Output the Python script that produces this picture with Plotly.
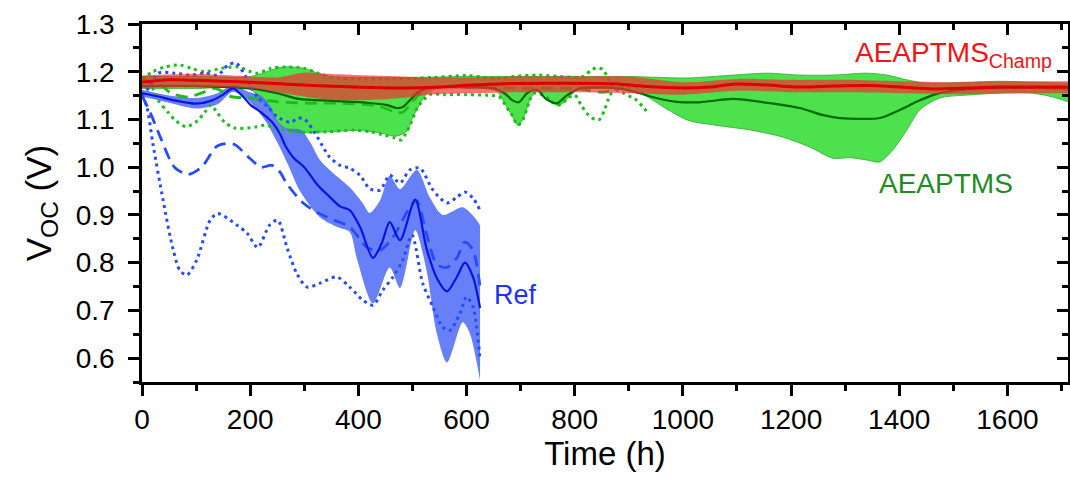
import plotly.graph_objects as go

# ---------------- Ref (blue) ----------------
ref_mean_t = [0, 30, 60, 100, 130, 150, 168, 185, 201, 220, 240, 255, 265, 280, 300, 325, 345, 366,
              384, 403, 427, 443, 458, 477, 505, 526, 545, 564, 582, 597, 612, 625]
ref_mean_v = [1.155, 1.148, 1.14, 1.133, 1.14, 1.152, 1.165, 1.15, 1.13, 1.115, 1.095, 1.07, 1.045,
              1.02, 1.0, 0.962, 0.94, 0.918, 0.91, 0.875, 0.81, 0.84, 0.885, 0.847, 0.932, 0.83,
              0.768, 0.74, 0.77, 0.80, 0.77, 0.705]

ref_up_t = [0, 50, 100, 140, 168, 196, 220, 238, 251, 265, 294, 312, 329, 353, 384, 408, 421, 440,
            458, 477, 508, 532, 556, 593, 619, 625]
ref_up_v = [1.162, 1.15, 1.145, 1.155, 1.172, 1.158, 1.15, 1.126, 1.095, 1.082, 1.078, 1.05, 1.015,
            0.988, 0.958, 0.925, 0.904, 0.93, 0.982, 0.954, 0.994, 0.937, 0.9, 0.916, 0.889, 0.878]

ref_lo_t = [0, 50, 100, 140, 168, 196, 227, 251, 270, 292, 329, 360, 384, 397, 427, 458, 477, 505,
            526, 545, 564, 593, 606, 625]
ref_lo_v = [1.148, 1.135, 1.123, 1.132, 1.158, 1.14, 1.099, 1.05, 1.005, 0.95, 0.895, 0.875, 0.864,
            0.81, 0.715, 0.79, 0.747, 0.868, 0.784, 0.652, 0.591, 0.675, 0.652, 0.553]

ref_dash_t = [0, 15, 35, 60, 85, 110, 140, 170, 196, 220, 240, 255, 268, 298, 323, 353, 384, 416,
              440, 464, 495, 508, 526, 545, 564, 582, 597, 612, 625]
ref_dash_v = [1.15, 1.115, 1.06, 1.0, 0.985, 1.0, 1.045, 1.048, 1.022, 1.0, 1.004, 0.99, 0.965,
              0.925, 0.906, 0.89, 0.875, 0.832, 0.826, 0.853, 0.916, 0.93, 0.86, 0.797, 0.79,
              0.81, 0.843, 0.826, 0.749]

ref_dot1_t = [0, 15, 30, 61, 91, 116, 140, 159, 174, 190, 201, 215, 233, 251, 275, 288, 301, 320,
              338, 347, 366, 384, 403, 421, 440, 458, 477, 495, 514, 538, 564, 582, 597, 612, 625]
ref_dot1_v = [1.15, 1.17, 1.197, 1.197, 1.193, 1.197, 1.193, 1.214, 1.218, 1.193, 1.168, 1.145,
              1.126, 1.105, 1.094, 1.103, 1.1, 1.071, 1.036, 1.021, 1.004, 0.998, 0.983, 0.955,
              0.952, 0.983, 0.967, 0.994, 0.998, 0.952, 0.925, 0.937, 0.948, 0.935, 0.91]

ref_dot2_t = [0, 9, 20, 39, 57, 70, 83, 101, 126, 140, 175, 194, 214, 236, 251, 268, 286, 305, 329,
              360, 384, 408, 427, 445, 464, 482, 499, 519, 538, 556, 569, 588, 600, 612, 625]
ref_dot2_v = [1.15, 1.126, 1.05, 0.931, 0.83, 0.784, 0.774, 0.805, 0.889, 0.903, 0.879, 0.862,
              0.832, 0.879, 0.889, 0.832, 0.778, 0.749, 0.757, 0.77, 0.749, 0.722, 0.711, 0.742,
              0.77, 0.805, 0.858, 0.757, 0.707, 0.665, 0.658, 0.694, 0.728, 0.707, 0.596]

# ---------------- AEAPTMS (green) ----------------
ae_up_t = [0, 100, 200, 230, 260, 300, 325, 350, 400, 500, 600, 700, 800, 900, 1010, 1093, 1155,
           1216, 1277, 1340, 1377, 1414, 1451, 1525, 1586, 1647, 1712]
ae_up_v = [1.19, 1.19, 1.19, 1.2, 1.21, 1.207, 1.197, 1.19, 1.188, 1.188, 1.19, 1.19, 1.19, 1.19,
           1.187, 1.193, 1.197, 1.193, 1.193, 1.197, 1.193, 1.183, 1.176, 1.178, 1.18, 1.178, 1.176]

ae_lo_t = [0, 100, 200, 230, 255, 280, 340, 400, 440, 470, 490, 501, 515, 527, 545, 600, 655, 670,
           684, 695, 704, 717, 728, 741, 754, 767, 778, 790, 805, 850, 900, 930, 970, 1010, 1060,
           1124, 1185, 1235, 1277, 1310, 1340, 1364, 1388, 1414, 1438, 1475, 1525, 1586, 1647,
           1684, 1712]
ae_lo_v = [1.165, 1.165, 1.163, 1.13, 1.09, 1.074, 1.074, 1.077, 1.072, 1.065, 1.076, 1.105, 1.135,
           1.155, 1.165, 1.165, 1.16, 1.135, 1.108, 1.088, 1.1, 1.14, 1.158, 1.155, 1.141, 1.13,
           1.134, 1.148, 1.162, 1.165, 1.162, 1.15, 1.122, 1.098, 1.088, 1.078, 1.063, 1.042,
           1.019, 1.02, 1.015, 1.011, 1.036, 1.078, 1.12, 1.145, 1.151, 1.155, 1.155, 1.147, 1.137]

ae_mean_t = [0, 100, 200, 250, 290, 353, 416, 453, 471, 482, 495, 508, 527, 560, 650, 670, 685,
             697, 712, 730, 748, 767, 785, 810, 880, 920, 951, 988, 1031, 1093, 1155, 1216, 1259,
             1290, 1364, 1401, 1432, 1462, 1488, 1550, 1650, 1712]
ae_mean_v = [1.17, 1.17, 1.165, 1.155, 1.143, 1.139, 1.135, 1.13, 1.124, 1.126, 1.14, 1.155, 1.166,
             1.168, 1.165, 1.155, 1.14, 1.136, 1.155, 1.162, 1.142, 1.134, 1.15, 1.165, 1.165,
             1.155, 1.145, 1.137, 1.136, 1.143, 1.135, 1.124, 1.109, 1.103, 1.103, 1.12, 1.137,
             1.151, 1.158, 1.165, 1.166, 1.165]

ae_dash_t = [0, 30, 54, 85, 109, 135, 165, 200, 251, 312, 362, 436, 471, 482, 495, 510, 530, 600,
             700, 800, 850, 870]
ae_dash_v = [1.183, 1.176, 1.155, 1.147, 1.155, 1.165, 1.148, 1.145, 1.137, 1.134, 1.134, 1.128,
             1.115, 1.115, 1.13, 1.15, 1.165, 1.168, 1.165, 1.165, 1.157, 1.16]

ae_dot1_t = [0, 20, 42, 70, 91, 116, 146, 177, 201, 214, 238, 264, 301, 325, 350, 400, 450, 500,
             540, 600, 656, 686, 735, 772, 815, 830, 840, 852, 860, 870, 890, 915, 926, 935]
ae_dot1_v = [1.185, 1.2, 1.21, 1.214, 1.207, 1.2, 1.207, 1.21, 1.2, 1.197, 1.207, 1.21, 1.207,
             1.197, 1.188, 1.185, 1.185, 1.186, 1.188, 1.192, 1.186, 1.19, 1.193, 1.19, 1.19,
             1.203, 1.208, 1.205, 1.19, 1.168, 1.155, 1.14, 1.126, 1.115]

ae_dot2_t = [0, 15, 30, 48, 61, 81, 100, 116, 127, 140, 153, 172, 209, 227, 257, 280, 340, 394,
             423, 449, 468, 479, 488, 497, 510, 532, 560, 600, 650, 661, 674, 684, 695, 704, 711,
             717, 726, 741, 754, 767, 778, 787, 800, 812, 825, 837, 846, 855, 865, 875, 900, 930]
ae_dot2_v = [1.185, 1.175, 1.14, 1.115, 1.099, 1.085, 1.095, 1.115, 1.13, 1.113, 1.094, 1.082,
             1.084, 1.088, 1.078, 1.074, 1.074, 1.078, 1.074, 1.067, 1.061, 1.057, 1.071, 1.092,
             1.126, 1.152, 1.152, 1.152, 1.15, 1.147, 1.126, 1.109, 1.088, 1.099, 1.12, 1.141,
             1.155, 1.151, 1.141, 1.13, 1.134, 1.145, 1.151, 1.13, 1.11, 1.10, 1.10, 1.12, 1.15,
             1.165, 1.168, 1.168]

# ---------------- AEAPTMS champion (red) ----------------
ch_mean_t = [0, 50, 100, 150, 200, 270, 340, 420, 486, 547, 608, 671, 750, 871, 933, 1000, 1050,
             1093, 1155, 1216, 1277, 1340, 1401, 1462, 1525, 1586, 1647, 1712]
ch_mean_v = [1.178, 1.183, 1.182, 1.18, 1.178, 1.174, 1.17, 1.167, 1.166, 1.168, 1.172, 1.175,
             1.176, 1.175, 1.169, 1.166, 1.168, 1.174, 1.172, 1.168, 1.17, 1.171, 1.168, 1.164,
             1.166, 1.168, 1.168, 1.168]

ch_band_t = [0, 100, 200, 250, 300, 350, 420, 480, 530, 600, 700, 800, 900, 1000, 1100, 1200, 1300,
             1400, 1500, 1600, 1712]
ch_up_v = [1.192, 1.195, 1.19, 1.188, 1.198, 1.195, 1.192, 1.19, 1.188, 1.188, 1.19, 1.19, 1.19,
           1.178, 1.185, 1.183, 1.183, 1.18, 1.178, 1.18, 1.18]
ch_lo_v = [1.166, 1.168, 1.165, 1.157, 1.148, 1.141, 1.141, 1.145, 1.152, 1.155, 1.157, 1.157,
           1.155, 1.152, 1.16, 1.157, 1.157, 1.155, 1.153, 1.155, 1.155]

# ---------------- axes ----------------
x_range = [0, 1712]
y_range = [0.55, 1.3]
x_ticks = [0, 200, 400, 600, 800, 1000, 1200, 1400, 1600]
y_ticks = [0.6, 0.7, 0.8, 0.9, 1.0, 1.1, 1.2, 1.3]

FONT = "Liberation Sans, Arial, sans-serif"

BLUE_MEAN = "rgb(10,20,225)"
BLUE_LINE = "rgb(40,75,255)"
BLUE_FILL = "rgba(70,100,245,0.82)"
GREEN_FILL = "rgb(77,226,77)"
GREEN_EDGE = "rgb(45,170,45)"
GREEN_LINE = "rgb(25,190,25)"
GREEN_MEAN = "rgb(0,105,0)"
RED_FILL = "rgba(250,40,50,0.68)"
RED_LINE = "rgb(225,0,0)"

fig = go.Figure()


def band(t_lo, v_lo, t_up, v_up, fill, edge, edge_w):
    fig.add_trace(go.Scatter(x=t_lo, y=v_lo, mode="lines",
                             line=dict(color=edge, width=edge_w, shape="spline", smoothing=0.8),
                             showlegend=False, hoverinfo="skip"))
    fig.add_trace(go.Scatter(x=t_up, y=v_up, mode="lines", fill="tonexty", fillcolor=fill,
                             line=dict(color=edge, width=edge_w, shape="spline", smoothing=0.8),
                             showlegend=False, hoverinfo="skip"))


def curve(t, v, color, width, dash):
    fig.add_trace(go.Scatter(x=t, y=v, mode="lines",
                             line=dict(color=color, width=width, dash=dash, shape="spline",
                                       smoothing=0.8),
                             showlegend=False, hoverinfo="skip"))


# bands
band(ae_lo_t, ae_lo_v, ae_up_t, ae_up_v, GREEN_FILL, GREEN_EDGE, 0.8)
band(ref_lo_t, ref_lo_v, ref_up_t, ref_up_v, BLUE_FILL, "rgba(0,0,0,0)", 0)

# individual devices and means
curve(ae_dot1_t, ae_dot1_v, GREEN_LINE, 3, "3px,4px")
curve(ae_dot2_t, ae_dot2_v, GREEN_LINE, 3, "3px,4px")
curve(ae_dash_t, ae_dash_v, GREEN_LINE, 2.8, "12px,7px")
curve(ae_mean_t, ae_mean_v, GREEN_MEAN, 2.2, "solid")

curve(ref_dot1_t, ref_dot1_v, BLUE_LINE, 3, "3px,4px")
curve(ref_dot2_t, ref_dot2_v, BLUE_LINE, 3, "3px,4px")
curve(ref_dash_t, ref_dash_v, BLUE_LINE, 2.8, "12px,7px")
curve(ref_mean_t, ref_mean_v, BLUE_MEAN, 2.2, "solid")

# champion device on top
band(ch_band_t, ch_lo_v, ch_band_t, ch_up_v, RED_FILL, "rgba(0,0,0,0)", 0)
curve(ch_mean_t, ch_mean_v, RED_LINE, 3, "solid")

# empty trace hosting the top/right mirror axes
fig.add_trace(go.Scatter(x=[], y=[], xaxis="x2", yaxis="y2", showlegend=False))

axis_common = dict(showgrid=False, zeroline=False, linecolor="black", linewidth=2.5,
                   tickcolor="black", tickwidth=2.5, showline=True)

fig.update_layout(
    width=1070, height=479,
    margin=dict(l=142, r=2, t=24, b=97),
    plot_bgcolor="white", paper_bgcolor="white",
    font=dict(family=FONT, color="black"),
    xaxis=dict(range=x_range, tickvals=x_ticks, ticks="outside", ticklen=11,
               minor=dict(dtick=100, tick0=0, ticks="outside", ticklen=6, tickwidth=2.5,
                          tickcolor="black"),
               tickfont=dict(size=28, family=FONT),
               title=dict(text="Time (h)", font=dict(size=33, family=FONT), standoff=8),
               **axis_common),
    yaxis=dict(range=y_range, tickvals=y_ticks, tickformat=".1f", ticks="outside", ticklen=11,
               ticklabelstandoff=8,
               minor=dict(dtick=0.05, tick0=0.55, ticks="outside", ticklen=6, tickwidth=2.5,
                          tickcolor="black"),
               tickfont=dict(size=28, family=FONT),
               title=dict(text="V<sub>OC</sub> (V)", font=dict(size=35, family=FONT), standoff=14),
               **axis_common),
    xaxis2=dict(range=x_range, overlaying="x", side="top", tickvals=x_ticks, ticks="inside",
                ticklen=11, showticklabels=False,
                minor=dict(dtick=100, tick0=0, ticks="inside", ticklen=6, tickwidth=2.5,
                           tickcolor="black"),
                **axis_common),
    yaxis2=dict(range=y_range, overlaying="y", side="right", tickvals=y_ticks, ticks="inside",
                ticklen=11, showticklabels=False,
                minor=dict(dtick=0.05, tick0=0.55, ticks="inside", ticklen=6, tickwidth=2.5,
                           tickcolor="black"),
                **axis_common),
    annotations=[
        dict(x=1314, y=1.237, xref="x", yref="y", xanchor="left", yanchor="middle",
             text="AEAPTMS<sub>Champ</sub>", showarrow=False,
             font=dict(size=28, color="rgb(240,20,20)", family=FONT)),
        dict(x=1486, y=0.965, xref="x", yref="y", xanchor="center", yanchor="middle",
             text="AEAPTMS", showarrow=False,
             font=dict(size=28, color="rgb(30,140,30)", family=FONT)),
        dict(x=691, y=0.732, xref="x", yref="y", xanchor="center", yanchor="middle",
             text="Ref", showarrow=False,
             font=dict(size=27, color="rgb(30,50,245)", family=FONT)),
    ],
)

fig.write_html("out.html")
